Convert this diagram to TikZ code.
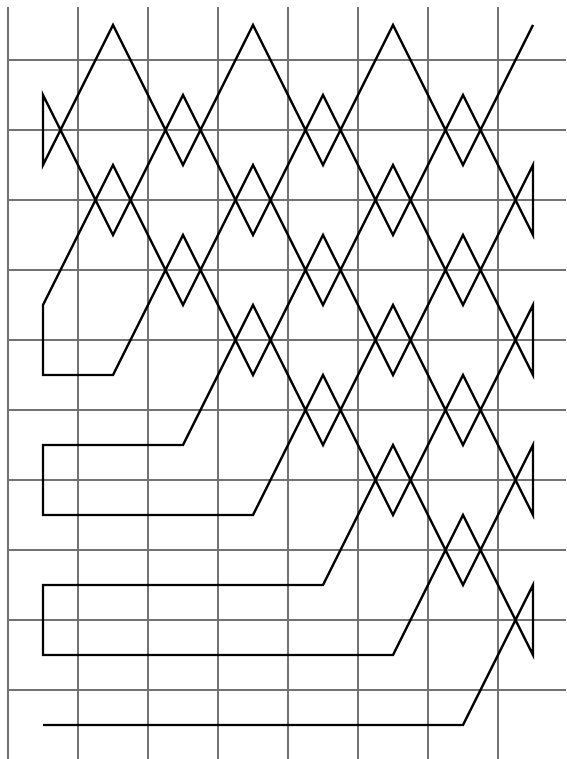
\documentclass[tikz,border=0pt]{standalone}
\begin{document}
\begin{tikzpicture}[x=70pt,y=-70pt,
  gridline/.style={draw=black!55, line width=1.2pt},
  braid/.style={draw=black, line width=2.4pt, line join=miter}]
\useasboundingbox (-0.6143,-0.3571) rectangle (7.4714,10.4857);
\foreach \i in {-0.5,0.5,...,6.5} \draw[gridline] (\i,-0.257) -- (\i,10.4857);
\foreach \j in {0.5,1.5,...,9.5} \draw[gridline] (-0.5,\j) -- (7.4714,\j);
\draw[braid] (7,0) -- (6,2) -- (5,0) -- (4,2) -- (3,0) -- (2,2) -- (1,0) -- (0,2) -- (0,1)
  -- (1,3) -- (2,1) -- (3,3) -- (4,1) -- (5,3) -- (6,1) -- (7,3) -- (7,2)
  -- (6,4) -- (5,2) -- (4,4) -- (3,2) -- (2,4) -- (1,2) -- (0,4) -- (0,5)
  -- (1,5) -- (2,3) -- (3,5) -- (4,3) -- (5,5) -- (6,3) -- (7,5) -- (7,4)
  -- (6,6) -- (5,4) -- (4,6) -- (3,4) -- (2,6) -- (0,6) -- (0,7)
  -- (3,7) -- (4,5) -- (5,7) -- (6,5) -- (7,7) -- (7,6)
  -- (6,8) -- (5,6) -- (4,8) -- (0,8) -- (0,9)
  -- (5,9) -- (6,7) -- (7,9) -- (7,8) -- (6,10) -- (0,10);
\end{tikzpicture}
\end{document}
